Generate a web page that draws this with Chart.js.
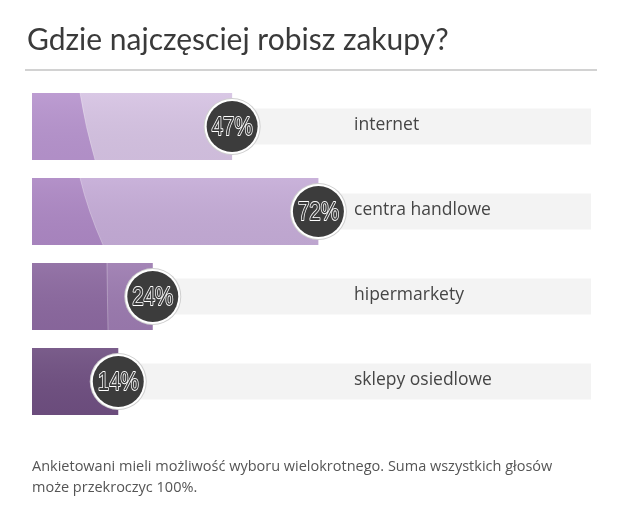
<!DOCTYPE html>
<html>
<head>
<meta charset="utf-8">
<script src="https://cdn.jsdelivr.net/npm/chart.js@4/dist/chart.umd.min.js"></script>
<style>
  html, body { margin: 0; padding: 0; background: #fff; }
  #wrap { position: relative; width: 620px; height: 524px; overflow: hidden; }
  #chart { position: absolute; left: 0; top: 0; }
  #title { position: absolute; left: 27px; top: 20px; font: 30px Lato, "Open Sans", sans-serif; color: #3a3a3a; white-space: nowrap; }
  #rule { position: absolute; left: 25px; top: 69px; width: 572px; height: 2px; background: #d2d2d2; }
  #note { position: absolute; left: 32px; top: 455px; width: 580px; font: 14.5px "Open Sans", sans-serif; line-height: 21px; color: #555; white-space: nowrap; }
</style>
</head>
<body>
<div id="wrap">
  <canvas id="chart" width="620" height="524"></canvas>
  <div id="title">Gdzie najczęsciej robisz zakupy?</div>
  <div id="rule"></div>
  <div id="note">Ankietowani mieli możliwość wyboru wielokrotnego. Suma wszystkich głosów<br>może przekroczyc 100%.</div>
</div>
<script>
const categories = ['internet', 'centra handlowe', 'hipermarkety', 'sklepy osiedlowe'];
const shares = [47, 72, 24, 14];

// colours of each bar: light (right) part and darker (left) glass part
const lightColors = ['#d6c3e3', '#c5acd7', '#9c7bb0', '#6f4f81'];
const darkColors = ['#b794ce', '#ad88c4', '#8c69a0', '#6c4c7e'];

const decor = {
    id: 'decor',
    beforeDatasetsDraw(chart) {
        const { ctx, chartArea } = chart;
        chart.getDatasetMeta(0).data.forEach(bar => {
            ctx.fillStyle = '#f3f3f3';
            ctx.fillRect(chartArea.left, bar.y - 18, chartArea.right - chartArea.left, 36);
        });
    },
    afterDatasetsDraw(chart) {
        const { ctx, chartArea } = chart;
        chart.getDatasetMeta(0).data.forEach((bar, i) => {
            const p = bar.getProps(['x', 'y', 'base', 'height'], true);
            const top = p.y - p.height / 2;
            const bottom = p.y + p.height / 2;

            // darker left part with a slanted edge
            ctx.save();
            ctx.beginPath();
            ctx.rect(p.base, top, p.x - p.base, p.height);
            ctx.clip();
            if (i < 3) {
                const slant = [15, 23, 1][i];
                const edge = p.base + [48, 48, 75][i];
                ctx.fillStyle = darkColors[i];
                ctx.beginPath();
                ctx.moveTo(p.base, top);
                ctx.lineTo(edge, top);
                ctx.quadraticCurveTo(edge + slant * 0.35, p.y, edge + slant, bottom);
                ctx.lineTo(p.base, bottom);
                ctx.closePath();
                ctx.fill();
                ctx.strokeStyle = 'rgba(255,255,255,0.3)';
                ctx.lineWidth = 1;
                ctx.beginPath();
                ctx.moveTo(edge, top);
                ctx.quadraticCurveTo(edge + slant * 0.35, p.y, edge + slant, bottom);
                ctx.stroke();
            }
            // soft top sheen
            const g = ctx.createLinearGradient(0, top, 0, bottom);
            g.addColorStop(0, 'rgba(255,255,255,0.08)');
            g.addColorStop(1, 'rgba(0,0,0,0.04)');
            ctx.fillStyle = g;
            ctx.fillRect(p.base, top, p.x - p.base, p.height);
            ctx.restore();

            // value badge
            ctx.save();
            ctx.beginPath();
            ctx.arc(p.x, p.y, 28.5, 0, Math.PI * 2);
            ctx.fillStyle = '#cfcfcf';
            ctx.fill();
            ctx.beginPath();
            ctx.arc(p.x, p.y, 27.5, 0, Math.PI * 2);
            ctx.fillStyle = '#ffffff';
            ctx.fill();
            ctx.beginPath();
            ctx.arc(p.x, p.y, 25.5, 0, Math.PI * 2);
            ctx.fillStyle = '#3c3c3c';
            ctx.fill();
            const txt = shares[i] + '%';
            ctx.font = '26px "Liberation Sans", sans-serif';
            const w = ctx.measureText(txt).width;
            const sx = 41 / w;
            ctx.translate(p.x, p.y + 1);
            ctx.scale(sx, 1);
            ctx.textAlign = 'center';
            ctx.textBaseline = 'middle';
            ctx.lineJoin = 'round';
            ctx.strokeStyle = '#ffffff';
            ctx.lineWidth = 1.8;
            ctx.strokeText(txt, 0, 0);
            ctx.fillStyle = '#3c3c3c';
            ctx.fillText(txt, 0, 0);
            ctx.restore();

            // category label
            ctx.save();
            ctx.font = '17.5px "Open Sans", sans-serif';
            ctx.fillStyle = '#454545';
            ctx.textAlign = 'left';
            ctx.textBaseline = 'middle';
            ctx.fillText(chart.data.labels[i], chartArea.left + 322, p.y - 1);
            ctx.restore();
        });
    }
};

new Chart(document.getElementById('chart'), {
    type: 'bar',
    data: {
        labels: categories,
        datasets: [{
            data: shares,
            base: -11,
            backgroundColor: lightColors,
            borderWidth: 0,
            categoryPercentage: 1,
            barPercentage: 67 / 85
        }]
    },
    options: {
        indexAxis: 'y',
        responsive: false,
        animation: false,
        layout: { padding: { left: 32, right: 29, top: 84, bottom: 100 } },
        scales: {
            x: { display: false, min: -11, max: 151 },
            y: { display: false }
        },
        plugins: {
            legend: { display: false },
            tooltip: { enabled: false }
        }
    },
    plugins: [decor]
});
</script>
</body>
</html>
